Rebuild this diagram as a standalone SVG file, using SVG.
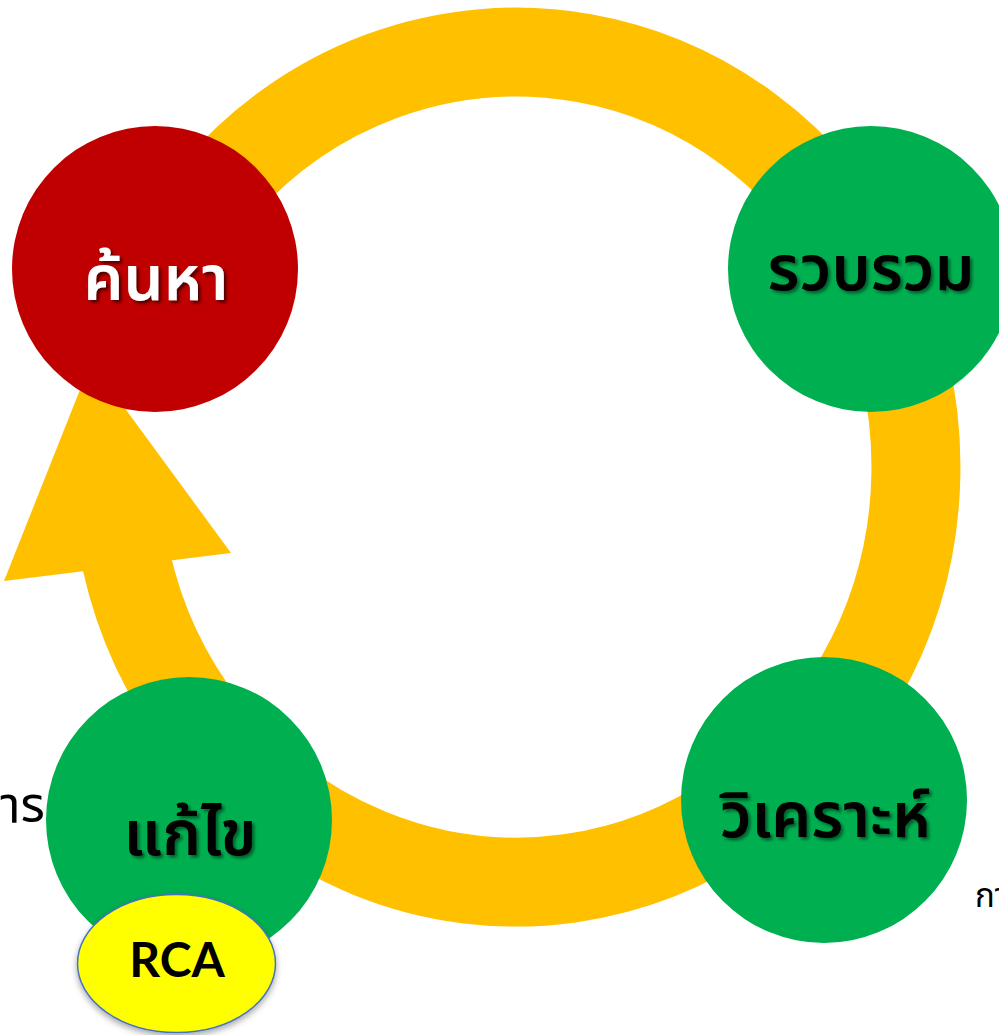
<svg xmlns="http://www.w3.org/2000/svg" width="999" height="1035" viewBox="0 0 999 1035">
  <defs>
    <filter id="txtShadowDark" x="-20%" y="-40%" width="150%" height="190%">
      <feDropShadow dx="2.5" dy="2.5" stdDeviation="1.6" flood-color="#000" flood-opacity="0.6"/>
    </filter>
    <filter id="txtShadowGrey" x="-20%" y="-40%" width="150%" height="190%">
      <feDropShadow dx="2.5" dy="2.5" stdDeviation="1.6" flood-color="#000" flood-opacity="0.45"/>
    </filter>
    <filter id="shapeShadow" x="-20%" y="-20%" width="140%" height="150%">
      <feDropShadow dx="0" dy="3" stdDeviation="3" flood-color="#000" flood-opacity="0.35"/>
    </filter>
  </defs>
  <style>
    .ring { fill: none; stroke: #FFC000; stroke-width: 89; }
    .head { fill: #FFC000; }
    .red { fill: #C00000; }
    .green { fill: #00B050; }
    .thai { font-family: "Noto Sans Thai", "Noto Sans Thai UI", Tahoma, "Leelawadee UI", "Noto Sans", sans-serif; }
    .label { font-size: 63px; font-weight: 600; text-anchor: middle; }
    .white { fill: #FFFFFF; filter: url(#txtShadowDark); }
    .black { fill: #000000; filter: url(#txtShadowGrey); }
    .side { fill: #000000; font-weight: normal; }
    .rca { fill: #FFFF00; stroke: #4472C4; stroke-width: 1.5; filter: url(#shapeShadow); }
    .rcaText { font-family: Lato, "Open Sans", "Liberation Sans", sans-serif; font-size: 48px; font-weight: bold; fill: #000; text-anchor: middle; }
  </style>

  <!-- cycle arrow: elliptical band ending in a head on the left, pointing up -->
  <g id="connectors">
    <path class="ring" d="M 129.6 359.6 A 400 415 0 1 1 126.2 560.4"/>
    <polygon class="head" points="4,581 91,362 231,553"/>
  </g>

  <!-- text partly outside the frame -->
  <text class="thai side" x="45" y="822" font-size="50" text-anchor="end">การ</text>
  <text class="thai side" x="975" y="907" font-size="33">การ</text>

  <g id="node-search">
    <circle class="red" cx="155" cy="269" r="143"/>
    <text class="thai label white" x="156" y="300">ค้นหา</text>
  </g>

  <g id="node-collect">
    <circle class="green" cx="871" cy="269" r="143"/>
    <text class="thai label black" x="871" y="290">รวบรวม</text>
  </g>

  <g id="node-analyze">
    <circle class="green" cx="824" cy="800" r="143"/>
    <text class="thai label black" x="825" y="837">วิเคราะห์</text>
  </g>

  <g id="node-fix">
    <circle class="green" cx="189" cy="820" r="143"/>
    <text class="thai label black" x="190" y="855">แก้ไข</text>
  </g>

  <g id="node-rca">
    <ellipse class="rca" cx="176.5" cy="963.5" rx="99" ry="69"/>
    <text class="rcaText" x="177" y="977">RCA</text>
  </g>
</svg>
